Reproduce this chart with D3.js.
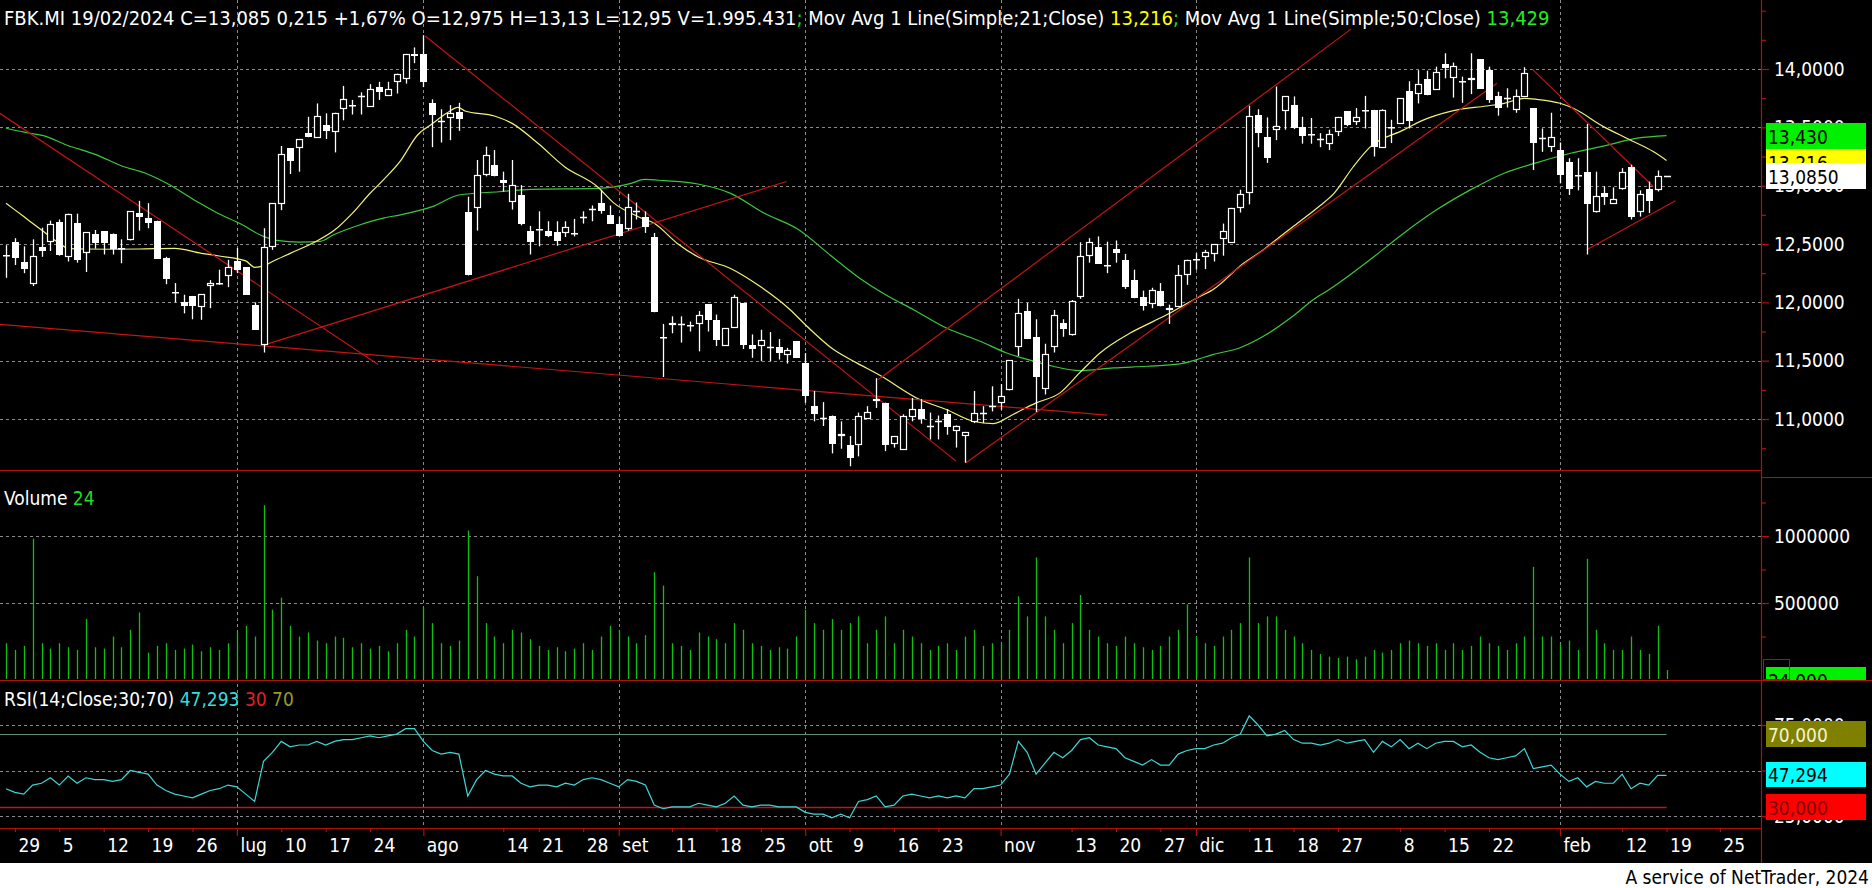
<!DOCTYPE html>
<html><head><meta charset="utf-8">
<script src="https://cdn.jsdelivr.net/npm/d3@7"></script>
<style>
html,body{margin:0;padding:0;background:#fff;overflow:hidden;}
svg{display:block;}
</style></head><body>
<svg id="c" width="1872" height="888"></svg>
<script>
// ---------- DATA ----------
const opens = [12.41,12.52,12.35,12.17,12.47,12.53,12.69,12.40,12.68,12.43,
12.59,12.61,12.59,12.465,12.54,12.77,12.72,12.70,12.38,12.085,
12.00,12.055,11.965,12.145,12.17,12.23,12.355,12.30,11.98,11.645,
12.485,12.85,13.32,13.33,13.45,13.42,13.52,13.47,13.67,13.69,
13.77,13.685,13.845,13.775,13.90,13.92,14.13,14.13,13.705,13.55,
13.59,13.63,12.775,12.815,13.10,13.18,13.05,12.865,12.92,12.615,
12.625,12.615,12.605,12.60,12.595,12.73,12.80,12.85,12.745,12.675,
12.635,12.78,12.735,12.56,11.705,11.81,11.81,11.805,11.825,11.985,
11.845,11.63,11.79,11.995,11.63,11.63,11.615,11.615,11.56,11.665,
11.48,11.11,11.01,11.03,10.865,10.78,10.79,11.01,11.165,11.14,
10.795,10.74,11.025,11.085,10.94,10.98,11.04,10.91,10.865,10.98,
11.055,11.11,11.145,11.26,11.625,11.93,11.705,11.265,11.625,11.825,
11.73,12.05,12.41,12.475,12.32,12.455,12.365,12.195,12.045,11.995,
12.10,11.94,11.97,12.245,12.375,12.395,12.42,12.55,12.515,12.815,
12.945,13.605,13.42,13.485,13.645,13.69,13.50,13.445,13.40,13.365,
13.47,13.64,13.55,13.65,13.65,13.33,13.50,13.535,13.81,13.795,
13.91,13.825,14.045,13.93,13.895,13.91,14.085,13.995,13.77,13.755,
13.655,13.77,13.665,13.405,13.34,13.305,13.20,13.095,13.12,12.785,
12.94,12.855,12.98,13.16,12.78,12.97,12.975,13.085];
const highs = [12.49,12.55,12.48,12.54,12.64,12.70,12.71,12.76,12.76,12.60,
12.62,12.61,12.59,12.54,12.78,12.87,12.85,12.70,12.39,12.165,
12.065,12.055,12.07,12.19,12.28,12.365,12.465,12.30,12.00,12.635,
12.85,13.34,13.32,13.40,13.59,13.705,13.62,13.625,13.855,13.735,
13.80,13.87,13.89,13.89,13.96,14.13,14.185,14.29,13.74,13.655,
13.69,13.71,12.905,13.22,13.335,13.305,13.12,13.22,13.005,12.655,
12.78,12.695,12.695,12.695,12.715,12.78,12.83,12.965,12.83,12.735,
12.93,12.855,12.78,12.595,11.815,11.88,11.88,11.835,11.925,11.985,
11.895,11.78,12.065,11.995,11.725,11.765,11.745,11.685,11.61,11.665,
11.565,11.24,11.145,11.03,10.98,10.855,11.055,11.11,11.35,11.14,
10.855,11.04,11.18,11.17,11.055,11.03,11.085,10.945,10.89,11.24,
11.11,11.28,11.30,11.505,12.03,11.995,11.855,11.645,11.935,11.855,
12.02,12.515,12.55,12.565,12.52,12.53,12.415,12.28,12.10,12.125,
12.165,11.98,12.32,12.365,12.42,12.45,12.50,12.675,12.81,12.965,
13.685,13.655,13.585,13.85,13.765,13.765,13.59,13.58,13.45,13.48,
13.59,13.64,13.665,13.77,13.65,13.655,13.565,13.75,13.895,13.99,
13.985,14.02,14.135,14.055,13.935,14.135,14.085,14.02,13.805,13.835,
13.825,14.015,13.665,13.49,13.625,13.37,13.235,13.235,13.53,13.12,
12.995,12.985,13.15,13.18,12.96,13.035,13.13,13.085];
const lows = [12.21,12.32,12.25,12.14,12.39,12.44,12.40,12.35,12.34,12.26,
12.46,12.41,12.41,12.335,12.53,12.615,12.635,12.375,12.155,12.00,
11.905,11.855,11.85,11.95,12.15,12.13,12.25,12.065,11.765,11.57,
12.45,12.79,13.10,13.12,13.415,13.42,13.40,13.285,13.56,13.61,
13.61,13.685,13.735,13.775,13.79,13.875,14.05,13.845,13.33,13.37,
13.39,13.47,12.23,12.615,13.08,13.08,12.95,12.795,12.66,12.41,
12.48,12.56,12.485,12.56,12.565,12.675,12.695,12.76,12.675,12.565,
12.615,12.71,12.595,11.915,11.36,11.735,11.655,11.75,11.58,11.75,
11.625,11.63,11.79,11.60,11.525,11.495,11.495,11.51,11.475,11.525,
11.14,10.98,10.94,10.705,10.745,10.595,10.68,11.00,11.095,10.725,
10.755,10.74,10.98,10.96,10.825,10.825,10.865,10.755,10.625,10.965,
10.965,11.065,11.08,11.245,11.54,11.685,11.06,11.21,11.57,11.705,
11.715,12.03,12.34,12.33,12.25,12.34,12.115,12.035,11.93,11.95,
11.965,11.815,11.965,12.15,12.28,12.285,12.35,12.40,12.515,12.77,
12.84,13.33,13.195,13.39,13.48,13.485,13.36,13.36,13.33,13.305,
13.425,13.51,13.52,13.49,13.25,13.33,13.365,13.53,13.49,13.705,
13.775,13.82,13.92,13.755,13.71,13.785,13.83,13.71,13.60,13.67,
13.625,13.77,13.135,13.29,13.29,13.02,12.92,12.96,12.41,12.77,
12.835,12.85,12.965,12.71,12.735,12.765,12.95,13.085];
const closes = [12.40,12.38,12.29,12.40,12.44,12.67,12.41,12.755,12.36,12.60,
12.51,12.51,12.455,12.46,12.78,12.73,12.68,12.375,12.20,12.08,
11.97,11.965,12.07,12.165,12.165,12.305,12.28,12.065,11.765,12.47,
12.85,13.27,13.215,13.40,13.415,13.60,13.47,13.625,13.74,13.685,
13.77,13.825,13.805,13.825,13.955,14.13,14.115,13.89,13.605,13.55,
13.62,13.57,12.23,13.095,13.265,13.085,13.02,13.005,12.675,12.515,
12.62,12.57,12.53,12.645,12.59,12.73,12.80,12.78,12.675,12.565,
12.815,12.78,12.645,11.915,11.70,11.825,11.81,11.80,11.895,11.845,
11.675,11.78,12.045,11.63,11.60,11.675,11.615,11.565,11.59,11.525,
11.195,11.04,11.01,10.79,10.87,10.67,11.025,11.06,11.17,10.78,
10.855,11.025,11.085,11.00,10.94,10.98,10.935,10.94,10.885,11.055,
11.055,11.11,11.20,11.505,11.91,11.685,11.36,11.56,11.89,11.77,
12.01,12.40,12.515,12.33,12.315,12.42,12.13,12.035,11.965,12.11,
11.965,11.95,12.235,12.365,12.37,12.43,12.50,12.615,12.805,12.93,
13.60,13.455,13.235,13.515,13.765,13.49,13.425,13.44,13.40,13.445,
13.585,13.52,13.585,13.645,13.33,13.645,13.495,13.75,13.55,13.87,
13.775,13.97,14.005,14.03,13.89,13.925,13.83,13.73,13.67,13.755,
13.765,13.965,13.365,13.405,13.42,13.095,12.97,13.09,12.845,12.915,
12.90,12.885,13.12,12.735,12.93,12.87,13.085,13.085];
const volumes = [200000,150000,180000,980000,200000,160000,200000,170000,150000,380000,
170000,160000,250000,170000,300000,430000,130000,180000,200000,150000,
160000,190000,140000,170000,150000,200000,280000,330000,250000,1230000,
450000,540000,330000,250000,280000,220000,200000,250000,240000,170000,
200000,160000,180000,140000,200000,300000,250000,470000,350000,200000,
180000,220000,1040000,700000,350000,250000,200000,300000,280000,230000,
180000,150000,170000,140000,160000,200000,150000,250000,330000,300000,
250000,200000,260000,730000,630000,200000,180000,150000,280000,250000,
230000,200000,350000,300000,200000,180000,150000,170000,160000,250000,
450000,350000,300000,380000,300000,350000,400000,200000,300000,400000,
200000,300000,250000,200000,150000,180000,200000,150000,250000,300000,
180000,200000,200000,300000,550000,400000,840000,400000,300000,200000,
350000,560000,300000,250000,200000,180000,250000,200000,170000,150000,
180000,250000,300000,490000,250000,200000,180000,250000,300000,350000,
840000,350000,400000,400000,300000,250000,200000,150000,120000,100000,
90000,100000,80000,100000,150000,130000,150000,200000,220000,200000,
180000,200000,150000,200000,150000,180000,250000,200000,180000,150000,
200000,250000,770000,250000,250000,200000,220000,150000,830000,300000,
200000,150000,150000,250000,150000,120000,330000,24];
const rsi = [40,38,37,42,43,46,42,47,43,46,
45,45,44,45,50,49,48,42,39,37,
36,35,37,39,40,42,41,37,33,55,
60,66,63,64,64,66,64,66,67,67,
68,69,68,69,70,73,73,66,61,59,
60,59,36,45,50,48,47,47,43,41,
42,42,41,43,42,45,46,45,43,41,
45,44,42,31,29,30,30,30,32,31,
30,32,36,31,30,31,31,30,30,30,
27,26,26,24,26,24,33,34,36,30,
31,36,37,36,35,36,35,36,35,40,
40,41,42,48,66,60,48,54,60,57,
61,67,68,64,63,62,57,55,53,56,
53,53,59,61,62,62,64,65,68,70,
80,75,69,70,72,67,65,65,64,65,
67,65,66,67,60,66,63,67,62,65,
62,65,66,66,63,64,60,57,56,57,
58,62,51,52,53,48,44,46,41,44,
43,43,48,40,43,42,47.3,47.29];
// moving averages: [bar index, value]
const ma21 = [[0,12.85],[2,12.735],[4,12.62],[6,12.506],[7,12.463],[9,12.457],[12,12.455],[15,12.457],[19,12.463],[22,12.42],[24,12.397],[27,12.355],[28,12.30],[29,12.312],[30,12.35],[32,12.42],[35,12.526],[37,12.62],[39,12.763],[41,12.935],[42.5,13.05],[44.4,13.21],[46.3,13.43],[48,13.53],[49.6,13.62],[50.9,13.671],[51.7,13.64],[55,13.597],[57,13.534],[59.9,13.363],[62.9,13.163],[66.6,12.991],[68.5,12.848],[71.2,12.734],[73,12.677],[75.6,12.505],[77.9,12.391],[81.6,12.29],[84.9,12.137],[88.3,11.937],[90.2,11.795],[93.2,11.595],[95.8,11.481],[98.4,11.375],[102.9,11.167],[105.9,11.081],[108.9,10.981],[111.2,10.961],[113.4,11.039],[116,11.138],[118.7,11.224],[120.9,11.395],[123.2,11.566],[126.6,11.737],[129.2,11.837],[131.1,11.909],[134.1,12.037],[135.9,12.108],[139.4,12.337],[141.6,12.451],[143.5,12.565],[145.7,12.693],[148,12.83],[149.5,12.93],[151.7,13.16],[153.6,13.33],[157.4,13.478],[159.2,13.549],[163,13.643],[166.7,13.683],[168.7,13.706],[171,13.749],[172.4,13.74],[175,13.706],[176.5,13.663],[179.9,13.506],[182.9,13.392],[185.5,13.292],[187,13.216]];
const ma50 = [[0,13.492],[2.7,13.449],[4.2,13.429],[6.8,13.349],[10.2,13.264],[13.2,13.164],[15.5,13.113],[18.1,13.021],[21.5,12.864],[23.7,12.77],[26.4,12.673],[29,12.565],[30.5,12.531],[33.1,12.516],[35.4,12.522],[36.9,12.579],[39.9,12.665],[42.5,12.722],[44.4,12.75],[48,12.82],[51,12.92],[55.5,12.948],[59.2,12.968],[66.6,12.977],[70.4,13.02],[71.9,13.054],[74.1,13.043],[77.9,13.014],[81.6,12.934],[85.4,12.763],[89.1,12.63],[92.9,12.40],[95.9,12.22],[99.5,12.046],[102.2,11.937],[105.9,11.78],[109.7,11.666],[112.7,11.566],[115.3,11.504],[117.9,11.452],[120.9,11.415],[124.7,11.438],[128.5,11.452],[132.2,11.472],[134.1,11.509],[135.9,11.552],[138.9,11.609],[141.6,11.709],[144.9,11.88],[147.2,12.023],[149.1,12.114],[153.6,12.365],[157.4,12.593],[161.1,12.793],[164.9,12.964],[168.7,13.107],[172.4,13.198],[176.2,13.278],[180,13.341],[183.7,13.407],[187,13.429]];
// hand-drawn trend lines: [fromIndex, fromPrice, toIndex, toPrice]
const trendLines = [[-0.7,13.62,41.9,11.467],[-0.7,11.812,124,11.033],[29.2,11.638,87.9,13.036],[47.2,14.283,107,10.639],[108.1,10.625,167.9,13.877],[98.2,11.337,151.5,14.344],[171.9,13.997,185.5,12.993],[178,12.451,188,12.87]];
const tickIdx = [1,6,11,16,21,26,31,36,41,47,56,60,65,69,75,80,85,90,95,100,105,112,120,125,130,134,140,145,150,157,162,167,175,182,187,193];
const tickLabels = ["29","5","12","19","26","lug","10","17","24","ago","14","21","28","set","11","18","25","ott","9","16","23","nov","13","20","27","dic","11","18","27","8","15","22","feb","12","19","25"];
const monthLabels = ["lug","ago","set","ott","nov","dic","feb"];
const priceTicks = [11,11.5,12,12.5,13,13.5,14];
const priceMinor = [10.75,11.25,11.75,12.25,12.75,13.25,13.75,14.25,14.5];
const volTicks = [500000,1000000];
const volMinor = [250000,750000,1250000];
const rsiTicks = [25,50,75];

// ---------- LAYOUT ----------
const FONT = "'DejaVu Sans Condensed','DejaVu Sans',sans-serif";
const RED = "#b01010", GRID = "#8a8a8a";
const AX = 1761; // right axis x
const svg = d3.select('#c');
const x = d3.scaleLinear().domain([0, 187]).range([6, 6 + 187 * 8.88]);
const yP = d3.scaleLinear().domain([11, 14]).range([419, 69]);
const yV = d3.scaleLinear().domain([0, 1000000]).range([670, 536]);
const yR = d3.scaleLinear().domain([25, 75]).range([816, 725]);

svg.append('rect').attr('x',0).attr('y',0).attr('width',1872).attr('height',863).attr('fill','#000');
svg.append('rect').attr('x',0).attr('y',863).attr('width',1872).attr('height',25).attr('fill','#fff');

const defs = svg.append('defs');
[['cP',0,0,AX,470],['cV',0,471,AX,209],['cR',0,681,AX,147],['cVb',1762,478,110,202]].forEach(([id,a,b,w,h])=>{
  defs.append('clipPath').attr('id',id).append('rect').attr('x',a).attr('y',b).attr('width',w).attr('height',h);
});

// grid
const grid = svg.append('g').attr('stroke',GRID).attr('stroke-width',1).attr('stroke-dasharray','3,3');
grid.selectAll('.hp').data(priceTicks).join('line').attr('x1',0).attr('x2',AX).attr('y1',d=>Math.round(yP(d))+0.5).attr('y2',d=>Math.round(yP(d))+0.5);
grid.selectAll('.hv').data(volTicks).join('line').attr('x1',0).attr('x2',AX).attr('y1',d=>Math.round(yV(d))+0.5).attr('y2',d=>Math.round(yV(d))+0.5);
grid.selectAll('.hr').data(rsiTicks).join('line').attr('x1',0).attr('x2',AX).attr('y1',d=>Math.round(yR(d))+0.5).attr('y2',d=>Math.round(yR(d))+0.5);
const monthIdx = tickIdx.filter((d,i)=>monthLabels.includes(tickLabels[i]));
grid.selectAll('.vg').data(monthIdx).join('line').attr('x1',d=>Math.round(x(d))+0.5).attr('x2',d=>Math.round(x(d))+0.5).attr('y1',0).attr('y2',828);

// panel separators
const sep = svg.append('g').attr('stroke',RED).attr('stroke-width',1.2);
sep.append('line').attr('x1',0).attr('x2',AX).attr('y1',470.5).attr('y2',470.5);
sep.append('line').attr('x1',AX).attr('x2',1872).attr('y1',477.5).attr('y2',477.5);
sep.append('line').attr('x1',0).attr('x2',1872).attr('y1',680.5).attr('y2',680.5);
sep.append('line').attr('x1',0).attr('x2',AX).attr('y1',828.5).attr('y2',828.5);
sep.append('line').attr('x1',AX+0.5).attr('x2',AX+0.5).attr('y1',0).attr('y2',863);

// ---------- PRICE PANEL ----------
const gp = svg.append('g').attr('clip-path','url(#cP)');
const lineMA = d3.line().x(d=>x(d[0])).y(d=>yP(d[1])).curve(d3.curveMonotoneX);
gp.append('path').attr('d',lineMA(ma50)).attr('fill','none').attr('stroke','#3cc83c').attr('stroke-width',1.2);
gp.append('path').attr('d',lineMA(ma21)).attr('fill','none').attr('stroke','#f2f27a').attr('stroke-width',1.2);
gp.selectAll('.tl').data(trendLines).join('line')
  .attr('x1',d=>x(d[0])).attr('y1',d=>yP(d[1])).attr('x2',d=>x(d[2])).attr('y2',d=>yP(d[3]))
  .attr('stroke','#c41414').attr('stroke-width',1.2);

const candles = d3.range(opens.length).map(i=>({i,o:opens[i],h:highs[i],l:lows[i],c:closes[i]}));
const cx = d=>Math.round(x(d.i));
gp.selectAll('.wk').data(candles.filter(d=>d.h>d.l)).join('line')
  .attr('x1',d=>cx(d)+0.5).attr('x2',d=>cx(d)+0.5)
  .attr('y1',d=>yP(d.h)).attr('y2',d=>yP(d.l)).attr('stroke','#fff').attr('stroke-width',1.3);
gp.selectAll('.up').data(candles.filter(d=>d.c>d.o)).join('rect')
  .attr('x',d=>cx(d)-2.5).attr('width',6)
  .attr('y',d=>Math.round(yP(d.c))+0.5)
  .attr('height',d=>Math.max(1,Math.round(yP(d.o))-Math.round(yP(d.c))))
  .attr('fill','#000').attr('stroke','#fff').attr('stroke-width',1.2);
gp.selectAll('.dn').data(candles.filter(d=>d.c<d.o)).join('rect')
  .attr('x',d=>cx(d)-3).attr('width',7)
  .attr('y',d=>Math.round(yP(d.o)))
  .attr('height',d=>Math.max(1.5,Math.round(yP(d.c))-Math.round(yP(d.o))))
  .attr('fill','#fff');
gp.selectAll('.dj').data(candles.filter(d=>d.c===d.o)).join('line')
  .attr('x1',d=>cx(d)-3).attr('x2',d=>cx(d)+4)
  .attr('y1',d=>Math.round(yP(d.c))+0.5).attr('y2',d=>Math.round(yP(d.c))+0.5)
  .attr('stroke','#fff').attr('stroke-width',1.5);

// ---------- VOLUME PANEL ----------
const gv = svg.append('g').attr('clip-path','url(#cV)');
gv.selectAll('.vb').data(volumes).join('line')
  .attr('x1',(d,i)=>Math.round(x(i))+0.5).attr('x2',(d,i)=>Math.round(x(i))+0.5)
  .attr('y1',679).attr('y2',d=>Math.min(679,yV(d)))
  .attr('stroke','#10c010').attr('stroke-width',1.3);

// ---------- RSI PANEL ----------
const gr = svg.append('g').attr('clip-path','url(#cR)');
gr.append('line').attr('x1',0).attr('x2',x(187)).attr('y1',Math.round(yR(70))+0.5).attr('y2',Math.round(yR(70))+0.5).attr('stroke','#5f8f78').attr('stroke-width',1);
gr.append('line').attr('x1',0).attr('x2',x(187)).attr('y1',Math.round(yR(30))+0.5).attr('y2',Math.round(yR(30))+0.5).attr('stroke','#c41414').attr('stroke-width',1.3);
gr.append('path').attr('d',d3.line().x((d,i)=>x(i)).y(d=>yR(d))(rsi)).attr('fill','none').attr('stroke','#3fd6d6').attr('stroke-width',1.2);

// ---------- AXES ----------
function styleAxis(g){
  g.select('.domain').remove();
  g.attr('font-family',FONT).attr('font-size',19);
  g.selectAll('line').attr('stroke',RED).attr('stroke-width',1.2);
  g.selectAll('text').attr('fill','#fff');
}
const fmt4 = d=>d.toFixed(4).replace('.',',');
svg.append('g').attr('transform',`translate(${AX},0)`).call(d3.axisRight(yP).tickValues(priceTicks).tickSize(8).tickPadding(5).tickFormat(fmt4)).call(styleAxis);
svg.append('g').attr('transform',`translate(${AX},0)`).call(d3.axisRight(yP).tickValues(priceMinor).tickSize(5).tickFormat('')).call(styleAxis);
svg.append('g').attr('transform',`translate(${AX},0)`).call(d3.axisRight(yV).tickValues(volTicks).tickSize(8).tickPadding(5).tickFormat(d=>String(d))).call(styleAxis);
svg.append('g').attr('transform',`translate(${AX},0)`).call(d3.axisRight(yV).tickValues(volMinor).tickSize(5).tickFormat('')).call(styleAxis);
svg.append('g').attr('transform',`translate(${AX},0)`).call(d3.axisRight(yR).tickValues(rsiTicks).tickSize(8).tickPadding(5).tickFormat(fmt4)).call(styleAxis);

const gx = svg.append('g').attr('transform','translate(0,828)')
  .call(d3.axisBottom(x).tickValues(tickIdx).tickSize(4).tickFormat((d,i)=>tickLabels[i])).call(styleAxis);
gx.selectAll('.tick').each(function(d,i){
  const t = d3.select(this);
  if (monthLabels.includes(tickLabels[i])) t.select('line').attr('y2',8);
  t.select('text').attr('text-anchor','start').attr('x',3).attr('y',24).attr('dy',0);
});

// ---------- VALUE BOXES ----------
function box(y0,h,fill,txt,col){
  svg.append('rect').attr('x',1766).attr('y',y0).attr('width',100).attr('height',h).attr('fill',fill);
  svg.append('text').attr('x',1768).attr('y',y0+h-5).attr('font-family',FONT).attr('font-size',19).attr('fill',col).text(txt);
}
box(123,26,'#00f000','13,430','#000');
box(149,26,'#ffff00','13,216','#000');
box(163,26,'#ffffff','13,0850','#000');
const vb = svg.append('g').attr('clip-path','url(#cVb)');
vb.append('rect').attr('x',1766).attr('y',667).attr('width',100).attr('height',26).attr('fill','#00f000');
vb.append('text').attr('x',1768).attr('y',688).attr('font-family',FONT).attr('font-size',19).attr('fill','#000').text('24,000');
vb.append('rect').attr('x',1763.5).attr('y',659.5).attr('width',26).attr('height',20).attr('fill','none').attr('stroke',RED);
box(721,26,'#808000','70,000','#f4f4d0');
box(762,25,'#00ffff','47,294','#000');
box(794,26,'#ff0000','30,000','#800000');

// ---------- TEXTS ----------
const hdr = svg.append('text').attr('x',4).attr('y',25).attr('font-family',FONT).attr('font-size',20).style('white-space','pre');
[["FBK.MI 19/02/2024 C=13,085 0,215 +1,67% O=12,975 H=13,13 L=12,95 V=1.995.431","#fff"],[";","#22dd22"],[" Mov Avg 1 Line(Simple;21;Close) ","#fff"],["13,216","#ffff00"],[";","#22dd22"],[" Mov Avg 1 Line(Simple;50;Close) ","#fff"],["13,429","#22ee22"]]
  .forEach(([t,c])=>hdr.append('tspan').attr('fill',c).text(t));
const vt = svg.append('text').attr('x',4).attr('y',505).attr('font-family',FONT).attr('font-size',19).style('white-space','pre');
vt.append('tspan').attr('fill','#fff').text('Volume ');
vt.append('tspan').attr('fill','#22dd22').text('24');
const rt = svg.append('text').attr('x',4).attr('y',706).attr('font-family',FONT).attr('font-size',19).style('white-space','pre');
[["RSI(14;Close;30;70) ","#fff"],["47,293","#33dddd"],[" ","#fff"],["30","#e02020"],[" ","#fff"],["70","#9a9a20"]].forEach(([t,c])=>rt.append('tspan').attr('fill',c).text(t));
svg.append('text').attr('x',1869).attr('y',884).attr('text-anchor','end').attr('font-family',FONT).attr('font-size',19).attr('fill','#000').text('A service of NetTrader, 2024');
</script>
</body></html>
